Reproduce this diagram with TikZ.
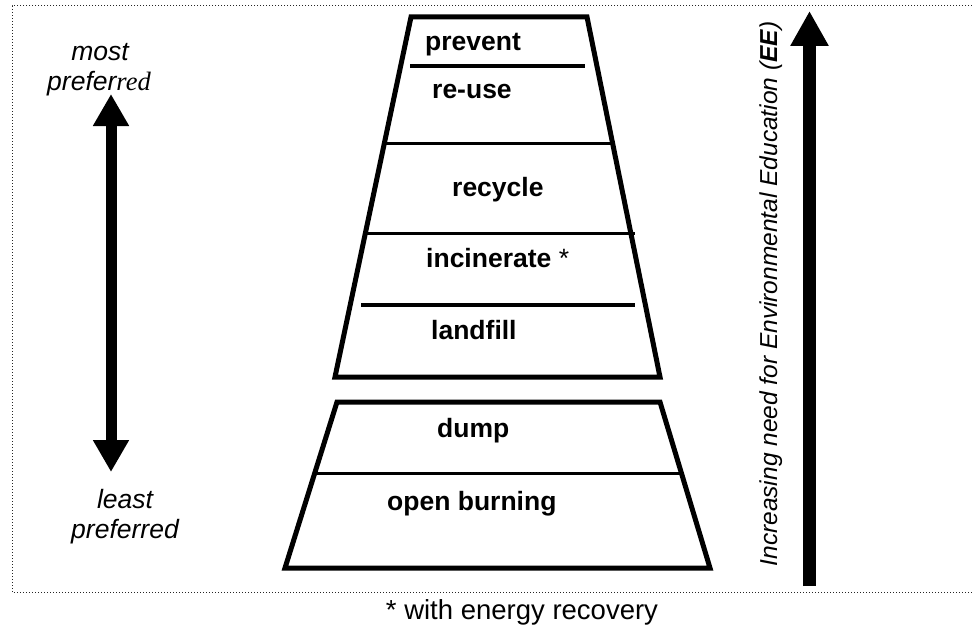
\documentclass[tikz,border=0pt]{standalone}
\usepackage{fontspec}
\setmainfont{Liberation Sans}
\newfontfamily\serifit{Liberation Serif}
\usetikzlibrary{arrows.meta}
\begin{document}
\begin{tikzpicture}[x=1pt,y=-1pt,
  frame/.style={line width=1pt, dash pattern=on 1pt off 2pt, black!85},
  tier/.style={line width=5pt, line join=miter},
  lbl/.style={font=\fontsize{26.5}{30}\selectfont\bfseries, anchor=base west, inner sep=0pt},
  side/.style={font=\fontsize{26.5}{30}\selectfont\itshape, anchor=base, inner sep=0pt},
]
\useasboundingbox (0,0) rectangle (972,626);

% dotted frame (open at the right)
\draw[frame] (972,6) -- (12,6) -- (12,592) -- (972,592);

% upper trapezoid
\draw[tier] (411,17) -- (587,17) -- (660,377) -- (335,377) -- cycle;
\draw[line width=4pt] (410,66) -- (585,66);
\draw[line width=3pt] (386,143) -- (611,143);
\draw[line width=3pt] (363,233) -- (635,233);
\draw[line width=4pt] (361,305) -- (635,305);

% lower trapezoid
\draw[tier] (337,402) -- (660,402) -- (710,568) -- (285,568) -- cycle;
\draw[line width=3pt] (315,473) -- (681,473);

% tier labels
\node[lbl] (prevent) at (425,51) {prevent};
\node[lbl] (reuse) at (432,99) {re-use};
\node[lbl] (recycle) at (452,196) {recycle};
\node[lbl] (incin) at (426,267) {incinerate {\mdseries *}};
\node[lbl] (landfill) at (431,339) {landfill};
\node[lbl] (dump) at (437,437) {dump};
\node[lbl] (openb) at (387,510) {open burning};

% left preference arrow
\coordinate (la0) at (111,94);
\coordinate (la1) at (111,472);
\draw[line width=11pt, {Triangle[width=34pt,length=32pt]}-{Triangle[width=34pt,length=32pt]}] (la0) -- (la1);
\node[side] (most) at (100,60) {most};
\node[side] (pref1) at (99,91) {prefer{\serifit\itshape red}};
\node[side] (least) at (125,508) {least};
\node[side] (pref2) at (125,538) {preferred};

% right EE arrow
\coordinate (ra0) at (809.5,586);
\coordinate (ra1) at (809.5,11);
\draw[line width=13pt, -{Triangle[width=36pt,length=35pt]}] (ra0) -- (ra1);
\node[font=\fontsize{24.5}{28}\selectfont\itshape, rotate=90, anchor=base, inner sep=0pt] (ee) at (777,294) {Increasing need for Environmental Education (\textbf{EE})};

% footnote
\node[font=\fontsize{27.5}{31}\selectfont, anchor=base, inner sep=0pt] (note) at (522,619) {* with energy recovery};
\end{tikzpicture}
\end{document}
